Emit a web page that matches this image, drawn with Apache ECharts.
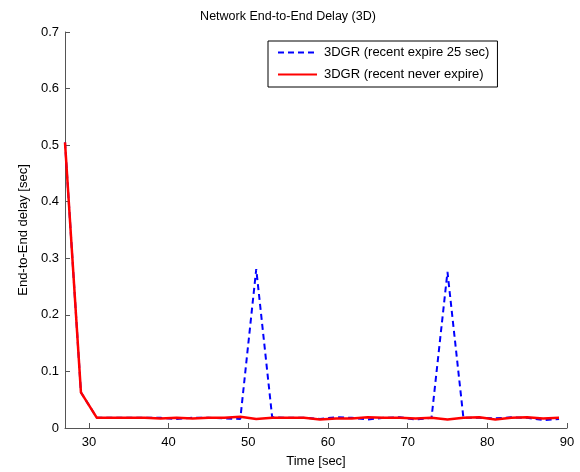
<!DOCTYPE html>
<html>
<head>
<meta charset="utf-8">
<script src="https://cdn.jsdelivr.net/npm/echarts@6/dist/echarts.min.js"></script>
<style>html,body{margin:0;padding:0;background:#fff}#c{width:580px;height:472px}</style>
</head>
<body>
<div id="c"></div>
<script>
const times = [27,29,31,33,35,37,39,41,43,45,47,49,51,53,55,57,59,61,63,65,67,69,71,73,75,77,79,81,83,85,87,89];
const expire25 = [0.505,0.063,0.018,0.018,0.018,0.018,0.018,0.016,0.018,0.018,0.017,0.016,0.281,0.019,0.018,0.018,0.016,0.019,0.018,0.015,0.018,0.019,0.015,0.018,0.276,0.018,0.018,0.017,0.019,0.018,0.014,0.016];
const neverExpire = [0.505,0.063,0.018,0.018,0.018,0.018,0.017,0.018,0.017,0.018,0.018,0.020,0.016,0.018,0.018,0.018,0.015,0.017,0.017,0.019,0.018,0.018,0.017,0.018,0.015,0.018,0.019,0.015,0.018,0.019,0.017,0.018];
const xTicks = [30,40,50,60,70,80,90];
const seriesNames = ['3DGR (recent expire 25 sec)','3DGR (recent never expire)'];
const titleText = 'Network End-to-End Delay (3D)';
const xName = 'Time [sec]';
const yName = 'End-to-End delay [sec]';

const font = 'Liberation Sans, Arial, Helvetica, sans-serif';
const chart = echarts.init(document.getElementById('c'));
const pair = arr => times.map((t,i)=>[t,arr[i]]);
chart.setOption({
  animation:false,
  backgroundColor:'#fff',
  title:{text:titleText,left:283,top:5,textAlign:'center',
    textStyle:{fontFamily:font,fontSize:12.5,fontWeight:'normal',color:'#000'}},
  grid:{left:65,right:13,top:32,bottom:44,containLabel:false,outerBoundsMode:'none'},
  legend:{
    orient:'vertical',left:268,top:41,
    padding:[5,8,6,9],itemGap:9,itemWidth:39,itemHeight:14,
    borderColor:'#000',borderWidth:1,backgroundColor:'#fff',
    itemStyle:{opacity:0},
    textStyle:{fontFamily:font,fontSize:13,color:'#000',padding:[0,0,0,2]},
    data:seriesNames
  },
  xAxis:{
    type:'value',min:27,max:90,
    name:xName,nameLocation:'middle',nameGap:27,
    nameTextStyle:{fontFamily:font,fontSize:13,color:'#000'},
    axisLine:{show:true,onZero:false,lineStyle:{color:'#555',width:1}},
    axisTick:{show:true,inside:true,length:5,customValues:xTicks,lineStyle:{color:'#555'}},
    axisLabel:{customValues:xTicks,fontFamily:font,fontSize:13,color:'#000',margin:8},
    splitLine:{show:false}
  },
  yAxis:{
    type:'value',min:0,max:0.7,interval:0.1,
    name:yName,nameLocation:'middle',nameGap:35,
    nameTextStyle:{fontFamily:font,fontSize:13,color:'#000'},
    axisLine:{show:true,lineStyle:{color:'#555',width:1}},
    axisTick:{show:true,inside:true,length:5,lineStyle:{color:'#555'}},
    axisLabel:{fontFamily:font,fontSize:13,color:'#000',margin:6,
      formatter:v=>v===0?'0':v.toFixed(1)},
    splitLine:{show:false}
  },
  series:[
    {name:seriesNames[0],type:'line',data:pair(expire25),symbol:'none',
     color:'#0000ff',lineStyle:{color:'#0000ff',width:2,type:[6,4]},z:2},
    {name:seriesNames[1],type:'line',data:pair(neverExpire),symbol:'none',
     color:'#ff0000',lineStyle:{color:'#ff0000',width:2.5,type:'solid'},z:3}
  ]
});
</script>
</body>
</html>
